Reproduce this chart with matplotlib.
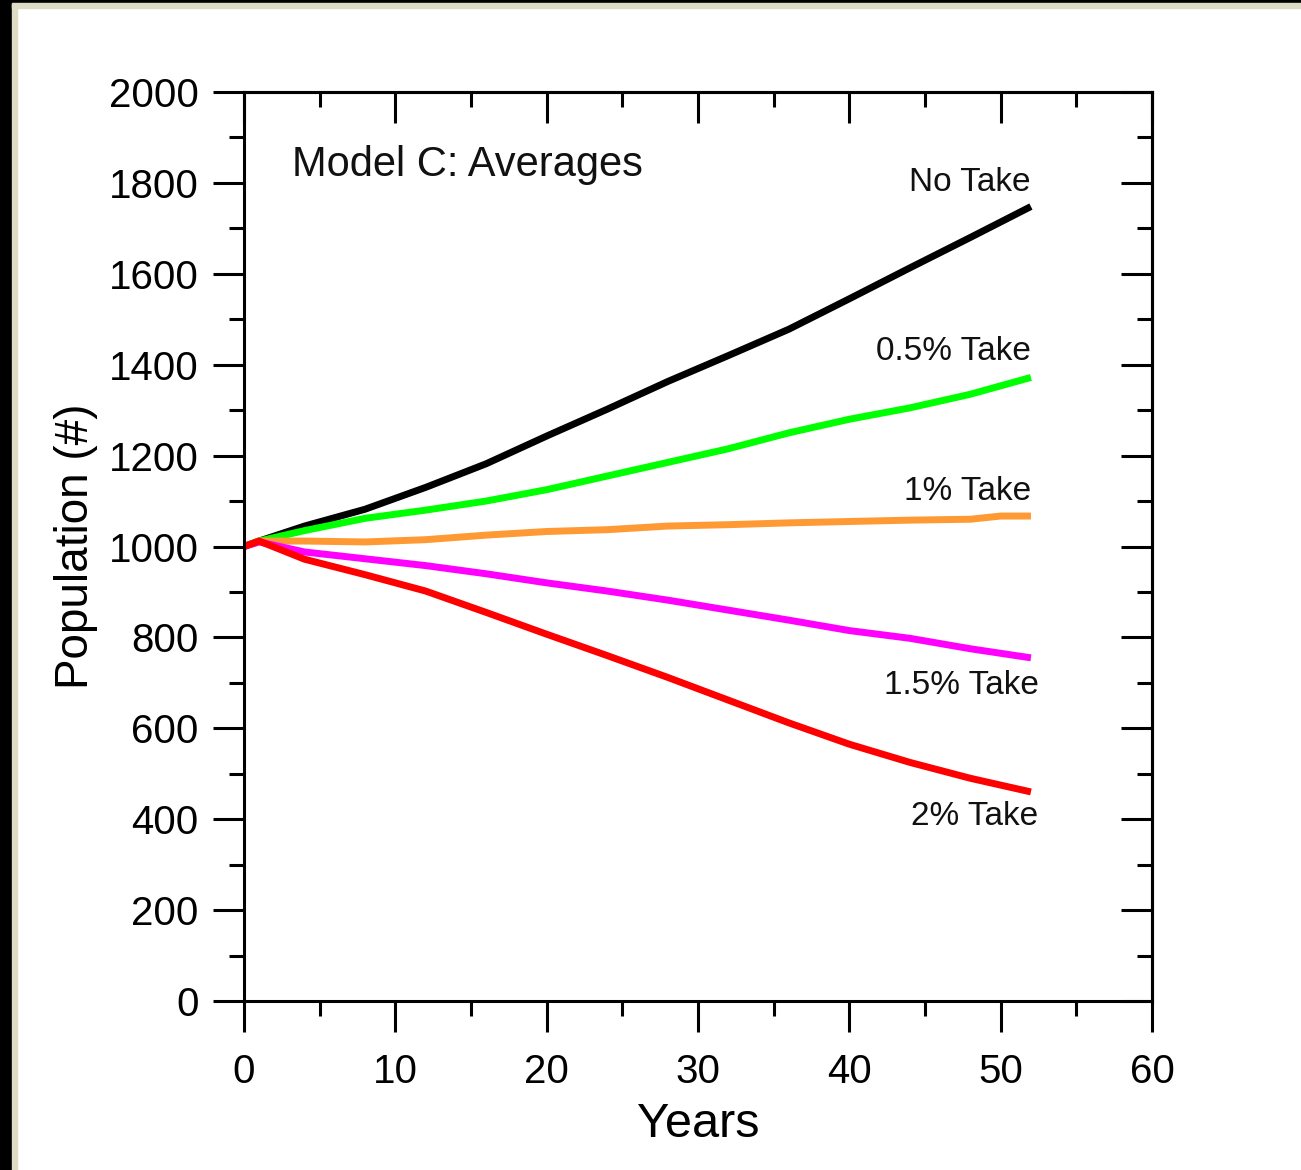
import matplotlib

matplotlib.use("Agg")
import matplotlib.pyplot as plt
from matplotlib.patches import Rectangle
from matplotlib.ticker import MultipleLocator

plt.rcParams["font.family"] = ["Liberation Sans", "DejaVu Sans"]

# values
years = [0, 1, 4, 8, 12, 16, 20, 24, 28, 32, 36, 40, 44, 48, 52]
no_take = [1000, 1012, 1045, 1082, 1130, 1182, 1243, 1302, 1363, 1420, 1478, 1545, 1613, 1680, 1748]
take_05 = [1000, 1012, 1035, 1062, 1080, 1100, 1125, 1155, 1185, 1215, 1250, 1280, 1305, 1335, 1372]
take_15 = [1000, 1010, 988, 973, 958, 940, 920, 902, 882, 860, 838, 815, 798, 775, 755]
take_2 = [1000, 1012, 972, 938, 902, 855, 807, 760, 712, 662, 612, 565, 525, 490, 460]

years_1 = [0, 1, 4, 8, 12, 16, 20, 24, 28, 32, 36, 40, 44, 48, 50, 52]
take_1 = [1000, 1012, 1012, 1010, 1015, 1025, 1033, 1037, 1045, 1048, 1052, 1055, 1058, 1060, 1067, 1067]

series = [
    (years, no_take, "black", "No Take", 52, 1800),
    (years, take_05, "#00ff00", "0.5% Take", 52, 1428),
    (years_1, take_1, "#ff9933", "1% Take", 52, 1122),
    (years, take_15, "#ff00ff", "1.5% Take", 52.5, 695),
    (years, take_2, "#ff0000", "2% Take", 52.5, 406),
]

fig = plt.figure(figsize=(13.01, 11.70), dpi=100)
fig.patch.set_facecolor("white")

# window frame (black + beige edge on left/top)
fig.patches.append(Rectangle((0, 0), 12 / 1301, 1, transform=fig.transFigure, color="black", zorder=0))
fig.patches.append(Rectangle((12 / 1301, 0), 5 / 1301, 1 - 3 / 1170, transform=fig.transFigure, color="#dedbc4", zorder=0))
fig.patches.append(Rectangle((0, 1 - 3 / 1170), 1, 3 / 1170, transform=fig.transFigure, color="black", zorder=0))
fig.patches.append(Rectangle((12 / 1301, 1 - 8 / 1170), 1, 5 / 1170, transform=fig.transFigure, color="#dedbc4", zorder=0))

ax = fig.add_axes([244 / 1301, 169 / 1170, 908 / 1301, 909 / 1170])

for xs, ys, color, label, lx, ly in series:
    ax.plot(xs, ys, color=color, lw=5, solid_capstyle="butt", solid_joinstyle="round")
    ax.text(lx, ly, label, ha="right", va="center", fontsize=24, color="#111111")

ax.text(3.2, 1840, "Model C: Averages", ha="left", va="center", fontsize=30, color="#111111")

ax.set_xlim(0, 60)
ax.set_ylim(0, 2000)
ax.xaxis.set_major_locator(MultipleLocator(10))
ax.xaxis.set_minor_locator(MultipleLocator(5))
ax.yaxis.set_major_locator(MultipleLocator(200))
ax.yaxis.set_minor_locator(MultipleLocator(100))

for s in ax.spines.values():
    s.set_linewidth(2.2)

ax.tick_params(which="both", direction="out", width=2.2, labelsize=29, top=False, right=False)
ax.tick_params(axis="y", pad=10)
ax.tick_params(axis="x", pad=15)
ax.tick_params(which="major", length=22.5)
ax.tick_params(which="minor", length=11)

sec_x = ax.secondary_xaxis("top")
sec_x.xaxis.set_major_locator(MultipleLocator(10))
sec_x.xaxis.set_minor_locator(MultipleLocator(5))
sec_x.tick_params(which="both", direction="in", width=2.2, labeltop=False)
sec_x.tick_params(which="major", length=22.5)
sec_x.tick_params(which="minor", length=11)
sec_x.spines["top"].set_linewidth(2.2)

sec_y = ax.secondary_yaxis("right")
sec_y.yaxis.set_major_locator(MultipleLocator(200))
sec_y.yaxis.set_minor_locator(MultipleLocator(100))
sec_y.tick_params(which="both", direction="in", width=2.2, labelright=False)
sec_y.tick_params(which="major", length=22.5)
sec_y.tick_params(which="minor", length=11)
sec_y.spines["right"].set_linewidth(2.2)

ax.set_xlabel("Years", fontsize=35, labelpad=8)
ax.set_ylabel("Population (#)", fontsize=33, labelpad=8)

fig.savefig("out.png", dpi=100, facecolor=fig.get_facecolor())
